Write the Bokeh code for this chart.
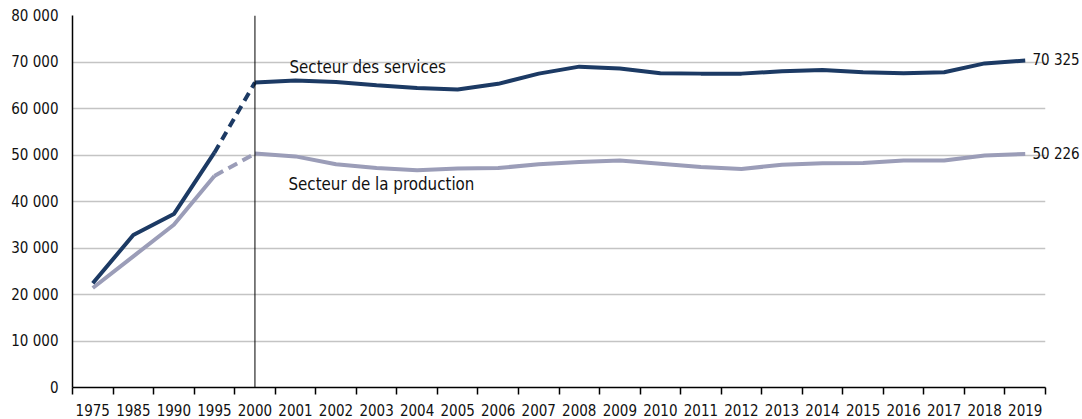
from bokeh.plotting import figure
from bokeh.models import Range1d, FixedTicker, Span, Label, LinearAxis
from bokeh.embed import file_html
from bokeh.resources import INLINE

years = ["1975", "1985", "1990", "1995", "2000", "2001", "2002", "2003", "2004",
         "2005", "2006", "2007", "2008", "2009", "2010", "2011", "2012", "2013",
         "2014", "2015", "2016", "2017", "2018", "2019"]
services = [22400, 32800, 37300, 50500, 65600, 66000, 65700, 65000, 64400,
            64100, 65300, 67500, 69000, 68600, 67600, 67500, 67500, 68000,
            68300, 67800, 67600, 67800, 69700, 70325]
production = [21400, 28200, 35000, 45500, 50300, 49700, 48000, 47200, 46700,
              47100, 47200, 48000, 48500, 48800, 48100, 47400, 47000, 47900,
              48200, 48300, 48800, 48800, 49900, 50226]
y_ticks = [0, 10000, 20000, 30000, 40000, 50000, 60000, 70000, 80000]
series_names = ["Secteur des services", "Secteur de la production"]

FONT = "DejaVu Sans Condensed"
TXT = "#111111"
C_SERV = "#1c3a64"
C_PROD = "#9b9db8"
TICK_FS = "15px"
LAB_FS = "16.8px"


def fmt(v):
    return f"{v:,}".replace(",", " ")


n = len(years)
xs = [i + 0.5 for i in range(n)]
split = years.index("1995")
join = years.index("2000")

p = figure(width=1082, height=419, output_backend="svg", toolbar_location=None,
           x_range=Range1d(0, n), y_range=Range1d(0, 80000),
           min_border_left=72, min_border_right=33, min_border_top=15,
           min_border_bottom=32)
p.outline_line_color = None
p.xgrid.visible = False
p.ygrid.grid_line_color = "#c4c4c4"
p.ygrid.grid_line_width = 1.5

# x axis: labels at category centres, ticks at category boundaries
xa = p.below[0]
xa.ticker = FixedTicker(ticks=xs, minor_ticks=list(range(n + 1)))
xa.major_label_overrides = {x: y for x, y in zip(xs, years)}
xa.major_tick_out = 0
xa.major_tick_in = 0
xa.minor_tick_out = 7
xa.minor_tick_in = 0
xa.minor_tick_line_color = "black"
xa.minor_tick_line_width = 1.5
xa.axis_line_color = "black"
xa.axis_line_width = 1.5
xa.major_label_standoff = 9
xa.major_label_text_font = FONT
xa.major_label_text_font_size = TICK_FS
xa.major_label_text_color = TXT

# y axis
ya = p.left[0]
ya.ticker = FixedTicker(ticks=y_ticks)
ya.major_label_overrides = {v: fmt(v) for v in y_ticks}
ya.major_tick_out = 0
ya.major_tick_in = 0
ya.minor_tick_line_color = None
ya.axis_line_color = "black"
ya.axis_line_width = 1.5
ya.major_label_standoff = 14
ya.major_label_text_font = FONT
ya.major_label_text_font_size = TICK_FS
ya.major_label_text_color = TXT

for vals, col, dash in [(production, C_PROD, "10 6"), (services, C_SERV, "9 6")]:
    p.line(xs[:split + 1], vals[:split + 1], line_color=col, line_width=4)
    p.line(xs[split:join + 1], vals[split:join + 1], line_color=col, line_width=4,
           line_dash=dash)
    p.line(xs[join:], vals[join:], line_color=col, line_width=4)

p.add_layout(Span(location=xs[join], dimension="height", line_color="black",
                  line_width=1))

# end value labels, as a right-hand axis
end_vals = [services[-1], production[-1]]
ra = LinearAxis(ticker=FixedTicker(ticks=end_vals),
                major_label_overrides={v: fmt(v) for v in end_vals},
                axis_line_color=None, major_tick_line_color=None,
                minor_tick_line_color=None, major_tick_out=0, major_tick_in=0,
                major_label_standoff=-13, major_label_text_font=FONT,
                major_label_text_font_size=TICK_FS, major_label_text_color=TXT)
p.add_layout(ra, "right")

# series labels
p.add_layout(Label(x=xs[join + 1], y=69000, x_offset=-6, text=series_names[0],
                   text_baseline="middle", text_font=FONT, text_font_size=LAB_FS,
                   text_color=TXT))
p.add_layout(Label(x=xs[join + 1], y=43700, x_offset=-7, text=series_names[1],
                   text_baseline="middle", text_font=FONT, text_font_size=LAB_FS,
                   text_color=TXT))

open("out.html", "w").write(file_html(p, INLINE))
